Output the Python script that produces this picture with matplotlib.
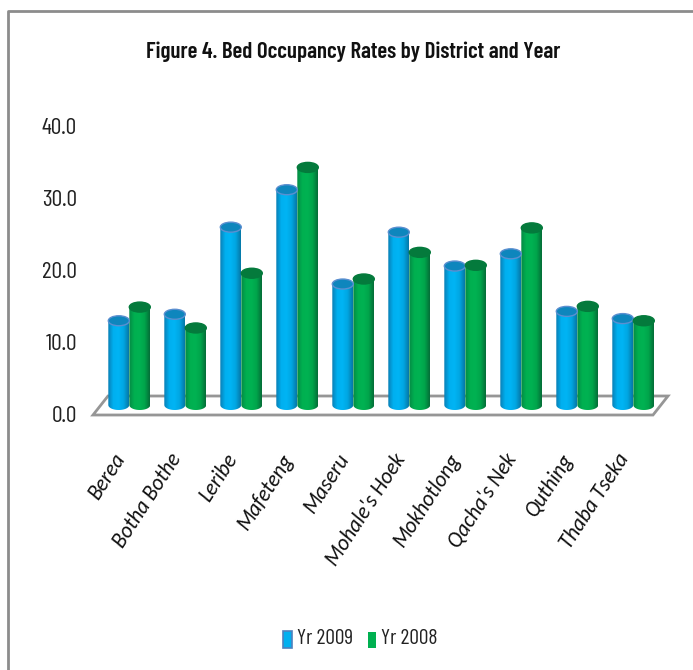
import numpy as np
import matplotlib
matplotlib.use('Agg')
import matplotlib.pyplot as plt
from matplotlib.colors import LinearSegmentedColormap
from matplotlib.patches import Ellipse, Rectangle, Polygon, PathPatch
from matplotlib.path import Path
from matplotlib.lines import Line2D

NARROW = ['Barlow Condensed', 'Carlito', 'DejaVu Sans']
plt.rcParams['font.family'] = ['Carlito', 'Liberation Sans', 'DejaVu Sans']

districts = ['Berea', 'Botha Bothe', 'Leribe', 'Mafeteng', 'Maseru',
             "Mohale's Hoek", 'Mokhotlong', "Qacha's Nek", 'Quthing', 'Thaba Tseka']
yr_2009 = [11.7, 12.6, 24.7, 29.9, 16.8, 24.0, 19.3, 21.0, 13.0, 12.0]
yr_2008 = [13.6, 10.7, 18.3, 33.0, 17.5, 21.2, 19.4, 24.6, 13.7, 11.7]
y_ticks = [0, 10, 20, 30, 40]

W, H = 693, 670
BAR_W = 0.375
PX_X = 56.0   # pixels per category
PX_Y = 7.2    # pixels per value unit

fig = plt.figure(figsize=(W / 100, H / 100), dpi=100, facecolor='white')

# axes placed so that value 0 sits on the bar bases
left, right = 93, 668
base, top = 405, 117
ax = fig.add_axes([left / W, 1 - base / H, (right - left) / W, (base - top) / H])
x0 = (129.3 - left) / PX_X
ax.set_xlim(-x0, (right - left) / PX_X - x0)
ax.set_ylim(0, (base - top) / PX_Y)
ax.autoscale(False)
ax.axis('off')

blue_map = LinearSegmentedColormap.from_list('b', ['#0a7fb5', '#00b0f0', '#00b4f4', '#00a6e2', '#0678a8'])
green_map = LinearSegmentedColormap.from_list('g', ['#058a45', '#00b050', '#00b252', '#00a54b', '#056e38'])
grad = np.linspace(0, 1, 64).reshape(1, -1)
cap_h = 10 / PX_Y


def cylinder(ax, x, value, cmap, cap_color, edge):
    x1, x2 = x, x + BAR_W
    mid = (x1 + x2) / 2
    im = ax.imshow(grad, cmap=cmap, extent=[x1, x2, -cap_h / 2, value], aspect='auto', zorder=3)
    verts = [(x1, value), (x2, value), (x2, 0)]
    verts += [(mid + BAR_W / 2 * np.cos(t), cap_h / 2 * np.sin(t)) for t in np.linspace(0, -np.pi, 24)]
    verts += [(x1, value)]
    im.set_clip_path(PathPatch(Path(verts), transform=ax.transData))
    im.set_clip_box(fig.bbox)  # the rounded base hangs below the axes
    ax.add_patch(Ellipse((mid, value), BAR_W, cap_h, facecolor=cap_color, edgecolor=edge, linewidth=1, zorder=4))


# floor of the 3D plot, in pixels of the figure
floor = Polygon([(93, H - 415), (653, H - 415), (668, H - 396), (108, H - 396)], closed=True,
                transform=None, facecolor='white', edgecolor='#969696', linewidth=2, zorder=1)
ax.add_patch(floor)
floor.set_clip_on(False)

for i in range(len(districts)):
    cylinder(ax, i - BAR_W, yr_2009[i], blue_map, '#0e86bd', '#5b8fd0')
    cylinder(ax, i, yr_2008[i], green_map, '#047a3c', '#047a3c')

for t in y_ticks:
    ax.annotate(f'{t:.1f}', xy=(0, t), xycoords=('axes fraction', 'data'), xytext=(-16, -11),
                textcoords='offset pixels', ha='right', va='center', fontsize=17, color='#222222',
                family=NARROW, annotation_clip=False)

for i, name in enumerate(districts):
    ax.annotate(name, xy=(i, 0), xycoords='data', xytext=(-17, -45), textcoords='offset pixels',
                ha='right', va='top', rotation=57, rotation_mode='anchor', fontsize=15.5,
                style='italic', color='#111111', annotation_clip=False)

fig.text(353 / W, 1 - 52 / H, 'Figure 4. Bed Occupancy Rates by District and Year', ha='center', va='center',
         fontsize=16.5, fontweight='semibold', color='#111111', family=NARROW)

# chart border, only top and left show
fig.add_artist(Line2D([7.5 / W, 7.5 / W, 1], [0, 1 - 10.5 / H, 1 - 10.5 / H], color='#8c8c8c', linewidth=2))

# legend
fig.add_artist(Rectangle((283 / W, 1 - 648 / H), 9 / W, 17 / H, facecolor='#00b0f0', edgecolor='#4f81bd',
                         linewidth=1.2, transform=fig.transFigure))
fig.text(297 / W, 1 - 639 / H, 'Yr 2009', ha='left', va='center', fontsize=15.5, color='#222222', family=NARROW)
fig.add_artist(Rectangle((368 / W, 1 - 648 / H), 8 / W, 16 / H, facecolor='#00b050', edgecolor='none',
                         transform=fig.transFigure))
fig.text(381 / W, 1 - 639 / H, 'Yr 2008', ha='left', va='center', fontsize=15.5, color='#222222', family=NARROW)

fig.savefig('out.png', dpi=100)
